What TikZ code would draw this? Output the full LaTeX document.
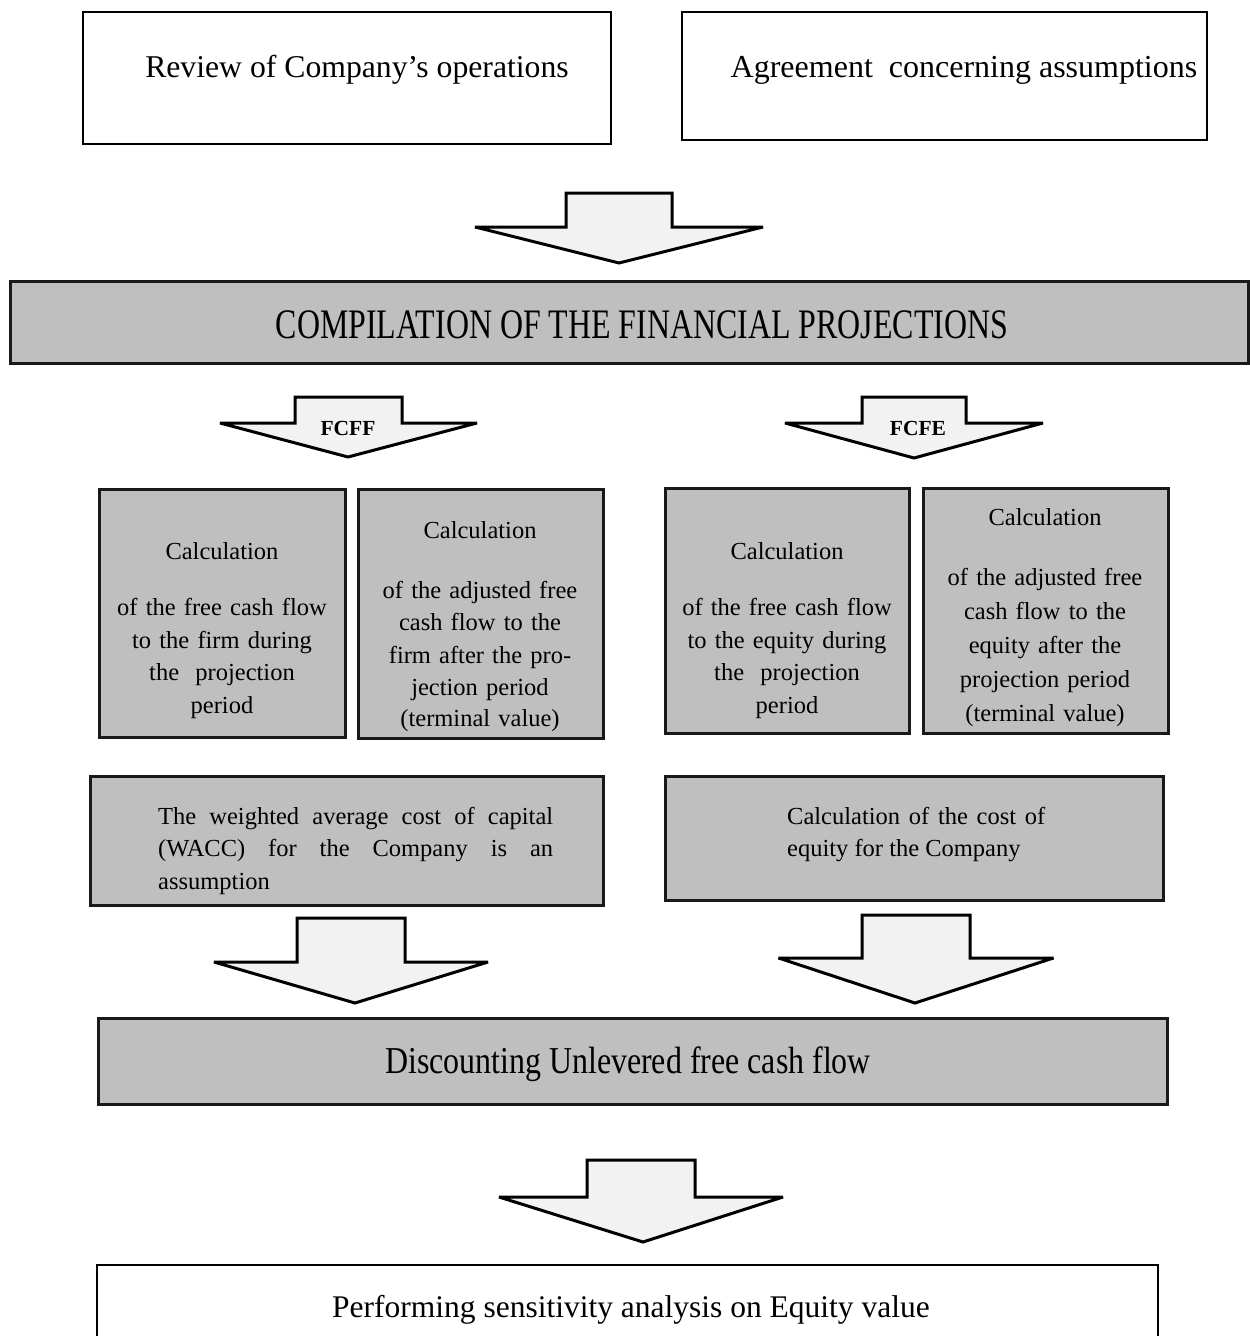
\documentclass[tikz,border=0pt]{standalone}
\usepackage{fontspec}
\setmainfont{Liberation Serif}
\usepackage{graphicx}
\definecolor{boxgrey}{RGB}{191,191,191}
\definecolor{arrowfill}{RGB}{242,242,242}
\newcommand{\barrow}[7]{%
  \draw[blockarrow] (#1-#2,#3) -- (#1+#2,#3) -- (#1+#2,#4) -- (#1+#5,#4) -- (#7,#6) -- (#1-#5,#4) -- (#1-#2,#4) -- cycle;}
\begin{document}
\begin{tikzpicture}[x=1pt,y=-1pt,
  whitebox/.style={draw=black, line width=2pt, fill=white, inner sep=0pt},
  greybox/.style={draw=black!90, line width=3pt, fill=boxgrey, inner sep=0pt},
  blockarrow/.style={draw=black, line width=3pt, fill=arrowfill, line join=miter, miter limit=3},
  calctxt/.style={inner sep=0pt, anchor=base, align=center, text width=240pt,
    font=\fontsize{24.5}{32.5}\selectfont},
  justtxt/.style={inner sep=0pt, anchor=base west, align=justify,
    font=\fontsize{24.5}{32.5}\selectfont},
]
\useasboundingbox (0,0) rectangle (1250,1336);

% top boxes
\node[whitebox, minimum width=528pt, minimum height=132pt] (review) at (347,78) {};
\node[whitebox, minimum width=525pt, minimum height=128pt] (agree) at (944.5,76) {};
\node[inner sep=0pt, anchor=base, font=\fontsize{31.7}{36}\selectfont] (reviewt) at (357,77) {Review of Company’s operations};
\node[inner sep=0pt, anchor=base, font=\fontsize{32}{36}\selectfont] (agreet) at (964,77) {Agreement\ \ concerning assumptions};

% arrow 1
\barrow{619}{53}{193}{227}{144}{263}{619}

% compilation
\node[greybox, minimum width=1238pt, minimum height=82pt] (comp) at (629,322) {};
\node[inner sep=0pt, anchor=base, font=\fontsize{42}{46}\selectfont] (compt) at (642,338) {\scalebox{0.76}[1]{COMPILATION OF THE FINANCIAL PROJECTIONS}};

% FCFF / FCFE arrows
\barrow{348.5}{53.5}{397}{423}{128.5}{457}{348}
\barrow{914}{52}{397}{423}{129}{458}{914}
\node[inner sep=0pt, anchor=base, font=\fontsize{21.5}{24}\selectfont\bfseries] (fcff) at (348,435) {FCFF};
\node[inner sep=0pt, anchor=base, font=\fontsize{21.5}{24}\selectfont\bfseries] (fcfe) at (918,435) {FCFE};

% calculation boxes
\node[greybox, minimum width=246pt, minimum height=248pt] (calcA) at (222,613) {};
\node[greybox, minimum width=245pt, minimum height=249pt] (calcB) at (480.5,613.5) {};
\node[greybox, minimum width=244pt, minimum height=245pt] (calcC) at (787,610.5) {};
\node[greybox, minimum width=245pt, minimum height=245pt] (calcD) at (1045.5,610.5) {};

\node[calctxt] (calcAt) at (222,559) {Calculation\\[24pt]of the free cash flow\\to the firm during\\the\ \ projection\\period};
\node[calctxt] (calcBt) at (480,538) {Calculation\\[27.5pt]of the adjusted free\\[-0.5pt]cash flow to the\\[0.5pt]firm after the pro-\\[-0.5pt]jection period\\[-1pt](terminal value)};
\node[calctxt] (calcCt) at (787,559) {Calculation\\[24pt]of the free cash flow\\to the equity during\\the\ \ projection\\period};
\node[calctxt] (calcDt) at (1045,525) {Calculation\\[27.5pt]of the adjusted free\\[1.5pt]cash flow to the\\[1.5pt]equity after the\\[2pt]projection period\\[1.5pt](terminal value)};

% rate boxes
\node[greybox, minimum width=513pt, minimum height=129pt] (wacc) at (346.5,840.5) {};
\node[greybox, minimum width=498pt, minimum height=124pt] (coe) at (914,838) {};
\node[justtxt, text width=395pt] (wacct) at (158,824) {The weighted average cost of capital\linebreak (WACC) for the Company is an\linebreak assumption};
\node[justtxt, text width=258pt] (coet) at (787,824) {Calculation of the cost of\linebreak equity for the Company};

% arrows to discounting
\barrow{351}{54}{918}{962}{137}{1003}{355}
\barrow{916}{54}{915}{958}{137.5}{1003}{915}

% discounting
\node[greybox, minimum width=1069pt, minimum height=86pt] (disc) at (632.5,1061) {};
\node[inner sep=0pt, anchor=base, font=\fontsize{38}{42}\selectfont] (disct) at (628,1073) {\scalebox{0.84}[1]{Discounting Unlevered free cash flow}};

% bottom arrow
\barrow{641}{54}{1160}{1197}{142}{1242}{643}

% final box
\node[whitebox, line width=2.5pt, minimum width=1061pt, minimum height=80pt] (sens) at (627.5,1305) {};
\node[inner sep=0pt, anchor=base, font=\fontsize{31.5}{36}\selectfont] (senst) at (631,1317) {Performing sensitivity analysis on Equity value};
\end{tikzpicture}
\end{document}
